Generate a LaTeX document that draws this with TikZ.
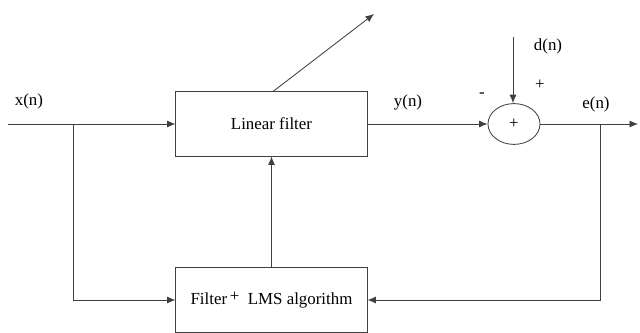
\documentclass[tikz,border=0pt]{standalone}
\usepackage{fontspec}
\setmainfont{Liberation Serif}
\usepackage{tikz}
\usetikzlibrary{shapes,arrows.meta,positioning,calc}

\tikzset{
  block/.style={draw=black!75, line width=0.7pt, minimum width=4.775cm, minimum height=1.6cm, inner sep=0pt},
  summer/.style={draw=black!75, line width=0.6pt, ellipse, minimum width=1.3cm, minimum height=1.02cm, inner sep=0pt},
  sig/.style={draw=black!75, line width=0.6pt, -{Latex[length=6pt,width=5pt]}},
  wire/.style={draw=black!75, line width=0.6pt},
  lbl/.style={inner sep=0pt}
}

\begin{document}
\begin{tikzpicture}[x=0.025cm, y=-0.025cm, font=\fontsize{12}{14}\selectfont]
    \useasboundingbox (0,0) rectangle (640,333);

    % blocks
    \node[block] (lf) at (271.5,124) {Linear filter};
    \node[block] (lms) at (271.5,300) {Filter\,\raisebox{2pt}{+}\ \ LMS algorithm};
    \node[summer] (sum) at (514,124) {+};

    % free ends and branch points
    \coordinate (xin) at (8,124);
    \coordinate (xsplit) at (73,124);
    \coordinate (xdown) at (73,300);
    \coordinate (dtop) at (513,37);
    \coordinate (eout) at (638,124);
    \coordinate (esplit) at (600,124);
    \coordinate (edown) at (600,300);
    \coordinate (adapt) at (374,14);

    % signal paths
    \draw[sig] (xin) -- (lf.west);
    \draw[sig] (xsplit) -- (xdown) -- (lms.west);
    \draw[sig] (lf.east) -- (sum.west);
    \draw[sig] (dtop) -- (dtop |- sum.north);
    \draw[sig] (sum.east) -- (eout);
    \draw[sig] (esplit) -- (edown) -- (lms.east);
    \draw[sig] (lms.north) -- (lf.south);
    \draw[sig] ($(lf.north)+(1.5,0)$) -- (adapt);

    % labels
    \node[lbl] (xlbl) at (29,101) {x(n)};
    \node[lbl] (ylbl) at (408,102) {y(n)};
    \node[lbl] (elbl) at (596,104) {e(n)};
    \node[lbl] (dlbl) at (548,46) {d(n)};
    \node[lbl] (plus) at (540,85) {+};
    \node[lbl] (minus) at (482,95) {-};
\end{tikzpicture}
\end{document}
